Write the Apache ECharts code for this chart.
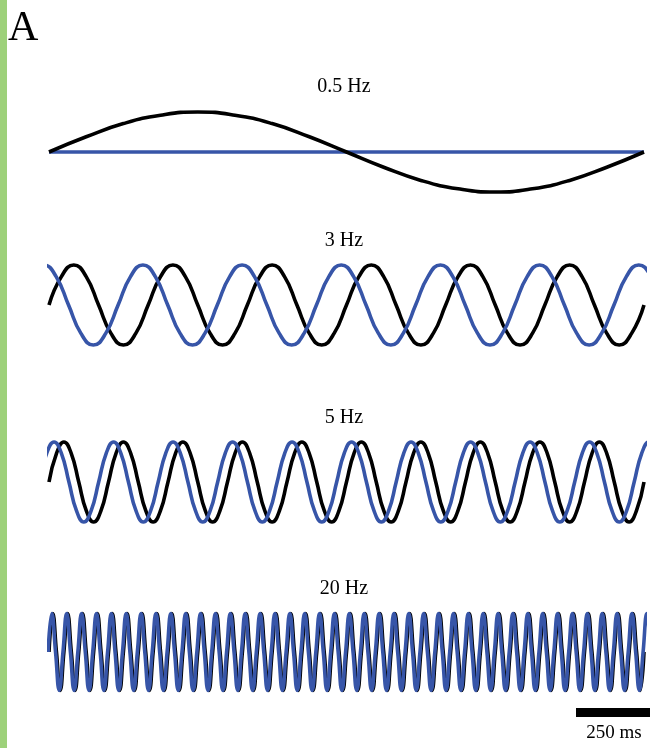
<!DOCTYPE html>
<html>
<head>
<meta charset="utf-8">
<script src="https://cdn.jsdelivr.net/npm/echarts@6/dist/echarts.min.js"></script>
<style>
    html, body { margin: 0; padding: 0; background: #fff; }
    #main { width: 650px; height: 748px; }
</style>
</head>
<body>
<div id="main"></div>
<script>
// panels, top to bottom
var panelTitles = ["0.5 Hz", "3 Hz", "5 Hz", "20 Hz"];
var freqs = [0.5, 3, 5, 20];
var pointsPerCycle = [16, 8, 8, 4];         // traced key points per period
var panelCenters = [152, 305, 482, 652];   // y of the zero line
var panelHalf = [48, 48, 48, 46];          // px from zero line to grid edge (1.2 units)

// time (s) of the first traced key point of each trace
var blackStart = [0, 0, 0, 0];
var blueStart = [0, -0.101, -0.033, -0.003];

// traced levels at the key points (1 = crest, 0 = crossing, -1 = trough)
var black05 = [0, .38, .71, .92, 1, .92, .71, .38, 0, -.38, -.71, -.92, -1, -.92, -.71, -.38, 0];
var blue05 = [0, 0, 0, 0, 0, 0, 0, 0, 0, 0, 0, 0, 0, 0, 0, 0, 0];

var black3 = [
    0, .71, 1, .71, 0, -.71, -1, -.71,   0, .71, 1, .71, 0, -.71, -1, -.71,
    0, .71, 1, .71, 0, -.71, -1, -.71,   0, .71, 1, .71, 0, -.71, -1, -.71,
    0, .71, 1, .71, 0, -.71, -1, -.71,   0, .71, 1, .71, 0, -.71, -1, -.71,
    0
];
var blue3 = [
    0, .71, 1, .71, 0, -.71, -1, -.71,   0, .71, 1, .71, 0, -.71, -1, -.71,
    0, .71, 1, .71, 0, -.71, -1, -.71,   0, .71, 1, .71, 0, -.71, -1, -.71,
    0, .71, 1, .71, 0, -.71, -1, -.71,   0, .71, 1, .71, 0, -.71, -1, -.71,
    0, .71, 1, .71, 0, -.71, -1, -.71
];

var black5 = [
    0, .71, 1, .71, 0, -.71, -1, -.71,   0, .71, 1, .71, 0, -.71, -1, -.71,
    0, .71, 1, .71, 0, -.71, -1, -.71,   0, .71, 1, .71, 0, -.71, -1, -.71,
    0, .71, 1, .71, 0, -.71, -1, -.71,   0, .71, 1, .71, 0, -.71, -1, -.71,
    0, .71, 1, .71, 0, -.71, -1, -.71,   0, .71, 1, .71, 0, -.71, -1, -.71,
    0, .71, 1, .71, 0, -.71, -1, -.71,   0, .71, 1, .71, 0, -.71, -1, -.71,
    0
];
var blue5 = [
    0, .71, 1, .71, 0, -.71, -1, -.71,   0, .71, 1, .71, 0, -.71, -1, -.71,
    0, .71, 1, .71, 0, -.71, -1, -.71,   0, .71, 1, .71, 0, -.71, -1, -.71,
    0, .71, 1, .71, 0, -.71, -1, -.71,   0, .71, 1, .71, 0, -.71, -1, -.71,
    0, .71, 1, .71, 0, -.71, -1, -.71,   0, .71, 1, .71, 0, -.71, -1, -.71,
    0, .71, 1, .71, 0, -.71, -1, -.71,   0, .71, 1, .71, 0, -.71, -1, -.71,
    0, .71, 1, .71
];

var black20 = [
    0, 1, 0, -1, 0, 1, 0, -1, 0, 1, 0, -1, 0, 1, 0, -1, 0, 1, 0, -1, 0, 1, 0, -1, 0, 1, 0, -1, 0, 1, 0, -1,
    0, 1, 0, -1, 0, 1, 0, -1, 0, 1, 0, -1, 0, 1, 0, -1, 0, 1, 0, -1, 0, 1, 0, -1, 0, 1, 0, -1, 0, 1, 0, -1,
    0, 1, 0, -1, 0, 1, 0, -1, 0, 1, 0, -1, 0, 1, 0, -1, 0, 1, 0, -1, 0, 1, 0, -1, 0, 1, 0, -1, 0, 1, 0, -1,
    0, 1, 0, -1, 0, 1, 0, -1, 0, 1, 0, -1, 0, 1, 0, -1, 0, 1, 0, -1, 0, 1, 0, -1, 0, 1, 0, -1, 0, 1, 0, -1,
    0, 1, 0, -1, 0, 1, 0, -1, 0, 1, 0, -1, 0, 1, 0, -1, 0, 1, 0, -1, 0, 1, 0, -1, 0, 1, 0, -1, 0, 1, 0, -1,
    0
];
var blue20 = [
    0, 1, 0, -1, 0, 1, 0, -1, 0, 1, 0, -1, 0, 1, 0, -1, 0, 1, 0, -1, 0, 1, 0, -1, 0, 1, 0, -1, 0, 1, 0, -1,
    0, 1, 0, -1, 0, 1, 0, -1, 0, 1, 0, -1, 0, 1, 0, -1, 0, 1, 0, -1, 0, 1, 0, -1, 0, 1, 0, -1, 0, 1, 0, -1,
    0, 1, 0, -1, 0, 1, 0, -1, 0, 1, 0, -1, 0, 1, 0, -1, 0, 1, 0, -1, 0, 1, 0, -1, 0, 1, 0, -1, 0, 1, 0, -1,
    0, 1, 0, -1, 0, 1, 0, -1, 0, 1, 0, -1, 0, 1, 0, -1, 0, 1, 0, -1, 0, 1, 0, -1, 0, 1, 0, -1, 0, 1, 0, -1,
    0, 1, 0, -1, 0, 1, 0, -1, 0, 1, 0, -1, 0, 1, 0, -1, 0, 1, 0, -1, 0, 1, 0, -1, 0, 1, 0, -1, 0, 1, 0, -1,
    0, 1, 0, -1
];

var blackLevels = [black05, black3, black5, black20];
var blueLevels = [blue05, blue3, blue5, blue20];
var titleY = [87, 241, 418, 589];

var BLUE = "#3755a8";
var SERIF = "'Liberation Serif', 'Times New Roman', serif";

// key point i sits i steps after the first one
function keyPoints(start, freq, perCycle, levels)
{
    var step = 1 / (perCycle * freq);
    var pts = [];
    for (var i = 0; i < levels.length; i++)
    {
        pts.push([start + i * step, levels[i]]);
    }
    return pts;
}

var grids = [], xAxes = [], yAxes = [], series = [], texts = [];
for (var p = 0; p < 4; p++)
{
    grids.push({
        left: 49,
        width: 595,
        top: panelCenters[p] - panelHalf[p],
        height: panelHalf[p] * 2
    });
    xAxes.push({ type: "value", gridIndex: p, min: 0, max: 2, show: false });
    yAxes.push({ type: "value", gridIndex: p, min: -1.2, max: 1.2, show: false });

    series.push({
        type: "line",
        xAxisIndex: p,
        yAxisIndex: p,
        data: keyPoints(blackStart[p], freqs[p], pointsPerCycle[p], blackLevels[p]),
        smooth: 0.5,
        symbol: "none",
        z: p === 0 ? 3 : 2,
        lineStyle: { color: "#000", width: 3.6 }
    });
    series.push({
        type: "line",
        xAxisIndex: p,
        yAxisIndex: p,
        data: keyPoints(blueStart[p], freqs[p], pointsPerCycle[p], blueLevels[p]),
        smooth: 0.5,
        symbol: "none",
        z: p === 0 ? 2 : 3,
        lineStyle: { color: BLUE, width: 3.6 }
    });

    texts.push({
        type: "text",
        x: 344,
        y: titleY[p],
        style: {
            text: panelTitles[p],
            font: "20px " + SERIF,
            fill: "#000",
            textAlign: "center",
            textVerticalAlign: "middle"
        }
    });
}

// green strip, panel letter and the 250 ms scale bar
texts.push({ type: "rect", shape: { x: 0, y: 0, width: 7, height: 748 }, style: { fill: "#9dd17a" } });
texts.push({
    type: "text", x: 8, y: 29,
    style: { text: "A", font: "42px " + SERIF, fill: "#000", textVerticalAlign: "middle" }
});
texts.push({ type: "rect", shape: { x: 576, y: 708, width: 75, height: 9 }, style: { fill: "#000" } });
texts.push({
    type: "text", x: 614, y: 733,
    style: { text: "250 ms", font: "19px " + SERIF, fill: "#000", textAlign: "center", textVerticalAlign: "middle" }
});

var myChart = echarts.init(document.getElementById("main"));
var option = {
    backgroundColor: "#fff",
    animation: false,
    grid: grids,
    xAxis: xAxes,
    yAxis: yAxes,
    series: series,
    graphic: texts
};
myChart.setOption(option);
</script>
</body>
</html>
